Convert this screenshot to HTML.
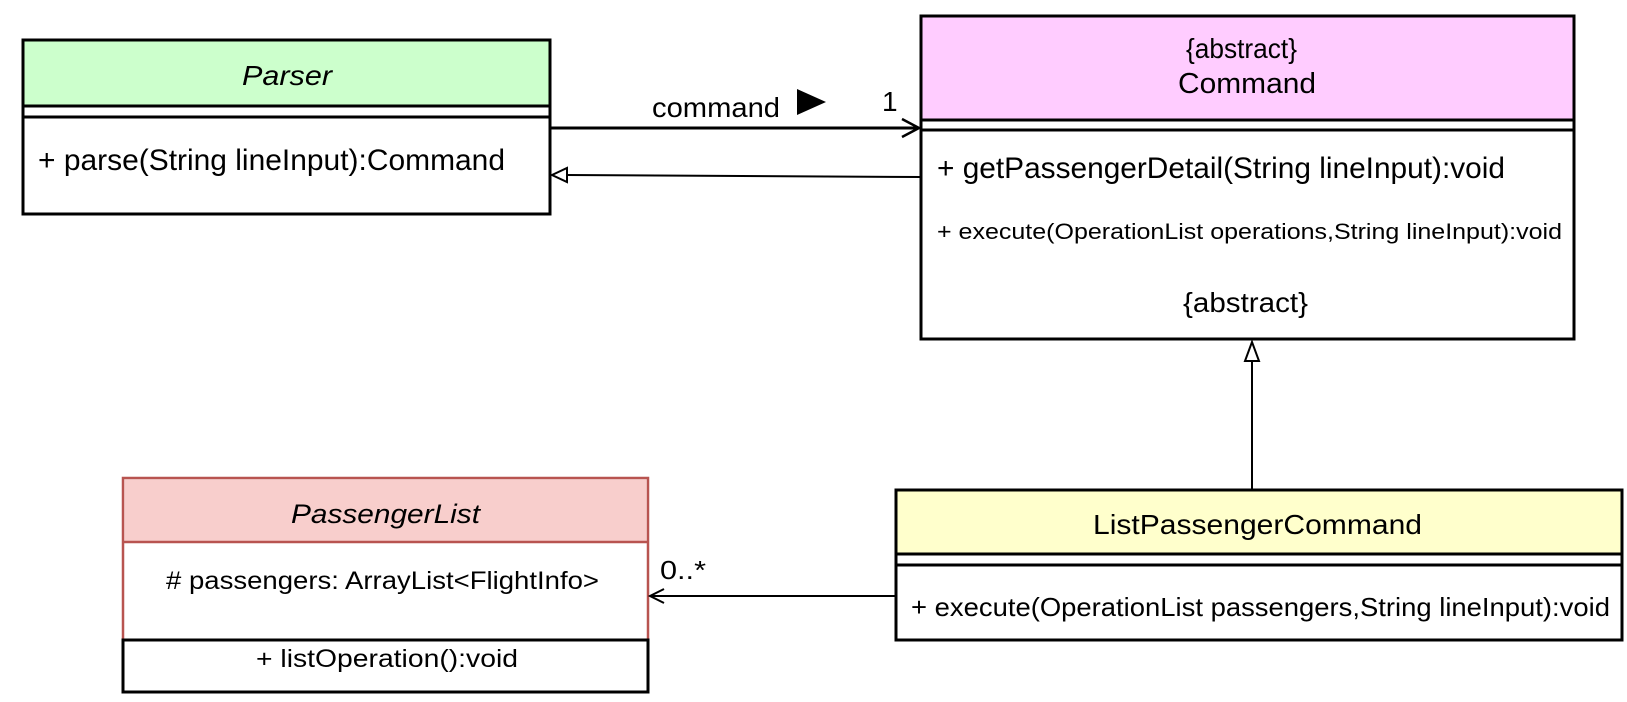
<!DOCTYPE html>
<html><head><meta charset="utf-8"><style>
html,body{margin:0;padding:0;background:#fff;}
svg{display:block;font-family:"Liberation Sans",Arial,sans-serif;}
</style></head><body>
<svg width="1627" height="702" viewBox="0 0 1627 702" xmlns="http://www.w3.org/2000/svg">
<!-- Parser -->
<rect x="23" y="40" width="527" height="174" fill="#fff" stroke="#000" stroke-width="3"/>
<rect x="24.5" y="41.5" width="524" height="64" fill="#ccffcc"/>
<line x1="23" y1="106" x2="550" y2="106" stroke="#000" stroke-width="3"/>
<line x1="23" y1="117" x2="550" y2="117" stroke="#000" stroke-width="3"/>
<text x="242" y="85" font-size="28" font-style="italic" textLength="90" lengthAdjust="spacingAndGlyphs">Parser</text>
<text x="38" y="170" font-size="30" textLength="467" lengthAdjust="spacingAndGlyphs">+ parse(String lineInput):Command</text>

<!-- Command -->
<rect x="921" y="16" width="653" height="323" fill="#fff" stroke="#000" stroke-width="3"/>
<rect x="922.5" y="17.5" width="650" height="102" fill="#ffccff"/>
<line x1="921" y1="120" x2="1574" y2="120" stroke="#000" stroke-width="3"/>
<line x1="921" y1="130" x2="1574" y2="130" stroke="#000" stroke-width="3"/>
<text x="1186" y="58" font-size="28" textLength="111" lengthAdjust="spacingAndGlyphs">{abstract}</text>
<text x="1178" y="93" font-size="29" textLength="138" lengthAdjust="spacingAndGlyphs">Command</text>
<text x="937" y="178" font-size="30" textLength="568" lengthAdjust="spacingAndGlyphs">+ getPassengerDetail(String lineInput):void</text>
<text x="937" y="239" font-size="22" textLength="625" lengthAdjust="spacingAndGlyphs">+ execute(OperationList operations,String lineInput):void</text>
<text x="1183" y="312" font-size="28" textLength="125" lengthAdjust="spacingAndGlyphs">{abstract}</text>

<!-- PassengerList -->
<rect x="123" y="478" width="525" height="214" fill="#fff" stroke="#b85450" stroke-width="2.5"/>
<rect x="124.5" y="479.5" width="522" height="62" fill="#f8cecc"/>
<line x1="123" y1="542" x2="648" y2="542" stroke="#b85450" stroke-width="2.5"/>
<path d="M123 640 H648 V692 H123 Z" fill="none" stroke="#000" stroke-width="3"/>
<text x="291" y="523" font-size="27" font-style="italic" textLength="189" lengthAdjust="spacingAndGlyphs">PassengerList</text>
<text x="166" y="589" font-size="25" textLength="433" lengthAdjust="spacingAndGlyphs"># passengers: ArrayList&lt;FlightInfo&gt;</text>
<text x="256" y="667" font-size="25" textLength="262" lengthAdjust="spacingAndGlyphs">+ listOperation():void</text>

<!-- ListPassengerCommand -->
<rect x="896" y="490" width="726" height="150" fill="#fff" stroke="#000" stroke-width="3"/>
<rect x="897.5" y="491.5" width="723" height="62" fill="#ffffcc"/>
<line x1="896" y1="554" x2="1622" y2="554" stroke="#000" stroke-width="3"/>
<line x1="896" y1="565" x2="1622" y2="565" stroke="#000" stroke-width="3"/>
<text x="1093" y="534" font-size="28" textLength="329" lengthAdjust="spacingAndGlyphs">ListPassengerCommand</text>
<text x="911" y="616" font-size="26" textLength="699" lengthAdjust="spacingAndGlyphs">+ execute(OperationList passengers,String lineInput):void</text>

<!-- association Parser -> Command -->
<line x1="550" y1="128" x2="919" y2="128" stroke="#000" stroke-width="3"/>
<polyline points="902,119 919,128 902,137" fill="none" stroke="#000" stroke-width="2.5"/>
<text x="652" y="117" font-size="28" textLength="128" lengthAdjust="spacingAndGlyphs">command</text>
<polygon points="797,89 826,102 797,115" fill="#000"/>
<text x="882" y="111" font-size="28">1</text>

<!-- dependency Command -> Parser (hollow triangle) -->
<line x1="921" y1="177" x2="566" y2="175" stroke="#000" stroke-width="2"/>
<polygon points="552,175 567,168 567,182" fill="#fff" stroke="#000" stroke-width="2"/>

<!-- generalization -->
<line x1="1252" y1="490" x2="1252" y2="361" stroke="#000" stroke-width="2"/>
<polygon points="1252,342 1245,361 1259,361" fill="#fff" stroke="#000" stroke-width="2"/>

<!-- ListPassengerCommand -> PassengerList -->
<line x1="896" y1="596" x2="650" y2="596" stroke="#000" stroke-width="2"/>
<polyline points="664,589 650,596 664,603" fill="none" stroke="#000" stroke-width="2"/>
<text x="660" y="579" font-size="26" textLength="46" lengthAdjust="spacingAndGlyphs">0..*</text>
</svg>
</body></html>
